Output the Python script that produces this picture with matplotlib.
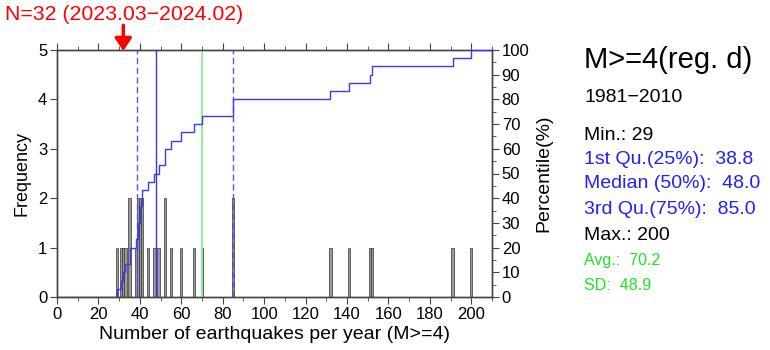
import matplotlib
matplotlib.use("Agg")
import matplotlib.pyplot as plt
import numpy as np

plt.rcParams['font.family'] = ['Liberation Sans', 'DejaVu Sans']

# annual counts of M>=4 events, 1981-2010
yearly_counts = [29, 31, 32, 33, 35, 35, 38, 39, 39, 40, 40, 41, 41, 44, 47, 49,
                 52, 52, 55, 60, 66, 70, 85, 85, 132, 141, 151, 152, 191, 200]

# summary values as printed on the chart
stat_min = 29
stat_q1 = 38.8
stat_median = 48.0
stat_q3 = 85.0
stat_max = 200
stat_avg = 70.2
stat_sd = 48.9

current_n = 32
current_label = "N=32 (2023.03\u22122024.02)"

W, H = 770, 350
fig = plt.figure(figsize=(W / 100, H / 100), dpi=100)
ax = fig.add_axes([57 / W, 53 / H, 435 / W, 247 / H])
ax2 = ax.twinx()

vals, freq = np.unique(yearly_counts, return_counts=True)
n = len(yearly_counts)

# histogram bars, width 1, centred on the value
ax.bar(vals, freq, width=1.15, color='#9a9a9a', edgecolor='#333333',
       linewidth=0.5, zorder=2)

# quartile / median / mean lines
ax.axvline(stat_q1, color='#5555ff', lw=1.0, dashes=(4.5, 2.5), zorder=3)
ax.axvline(stat_median, color='#3333ff', lw=1.0, zorder=3)
ax.axvline(stat_avg, color='#90f090', lw=1.4, zorder=3)
ax.axvline(stat_q3, color='#5555ff', lw=1.0, dashes=(4.5, 2.5), zorder=3)

# cumulative percentile step line
xs = np.concatenate([[0], vals, [210]])
ys = np.concatenate([[0], np.cumsum(freq) / n * 100, [100]])
ax2.step(xs, ys, where='post', color='#3a3aff', lw=1.0, zorder=4)

ax.set_xlim(0, 210)
ax.set_ylim(0, 5)
ax2.set_ylim(0, 100)

spine_c = '#444444'
for a in (ax, ax2):
    for s in a.spines.values():
        s.set_color(spine_c)
        s.set_linewidth(1.0)

ax.set_xticks(np.arange(0, 201, 20))
ax.set_xticks(np.arange(10, 211, 20), minor=True)
ax.set_yticks(range(0, 6))
ax2.set_yticks(range(0, 101, 10))
ax2.set_yticks(range(5, 100, 10), minor=True)

ax.xaxis.set_ticks_position('both')
ax.tick_params(axis='x', which='both', direction='out', color=spine_c,
               labelsize=12, pad=2)
ax.tick_params(axis='x', which='major', length=5)
ax.tick_params(axis='x', which='minor', length=3)
ax.tick_params(axis='y', direction='out', length=5, color=spine_c, labelsize=12, pad=2)
ax2.tick_params(axis='y', which='major', direction='out', length=5, color=spine_c,
                labelsize=12, pad=2)
ax2.tick_params(axis='y', which='minor', direction='out', length=3, color=spine_c)

ax.set_xlabel("Number of earthquakes per year (M>=4)", fontsize=14, labelpad=3)
ax.set_ylabel("Frequency", fontsize=13, labelpad=5)
ax2.set_ylabel("Percentile(%)", fontsize=14, labelpad=4)

# current value marker
ax.annotate("", xy=(current_n, 4.98), xycoords='data',
            xytext=(current_n, 5.5), textcoords='data',
            arrowprops=dict(arrowstyle='-|>,head_length=0.75,head_width=0.5',
                            color='red', lw=2.5, shrinkA=0, shrinkB=0),
            annotation_clip=False)
fig.text(5 / W, 1 - 15 / H, current_label, color='red', fontsize=15.3,
         ha='left', va='center')

# summary panel
tx = 584 / W
def put(ypix, s, color='black', size=14):
    fig.text(tx, 1 - ypix / H, s, color=color, fontsize=size, ha='left', va='center')

put(60, "M>=4(reg. d)", size=21)
put(97, "1981\u22122010", size=14)
put(135, f"Min.: {stat_min}")
put(159, f"1st Qu.(25%):  {stat_q1:.1f}", color='#2020ff')
put(184, f"Median (50%):  {stat_median:.1f}", color='#2020ff')
put(209, f"3rd Qu.(75%):  {stat_q3:.1f}", color='#2020ff')
put(235, f"Max.: {stat_max}")
put(260, f"Avg.:  {stat_avg:.1f}", color='#22e022', size=11.5)
put(285, f"SD:  {stat_sd:.1f}", color='#22e022', size=11.5)

fig.savefig("out.png", dpi=100)
